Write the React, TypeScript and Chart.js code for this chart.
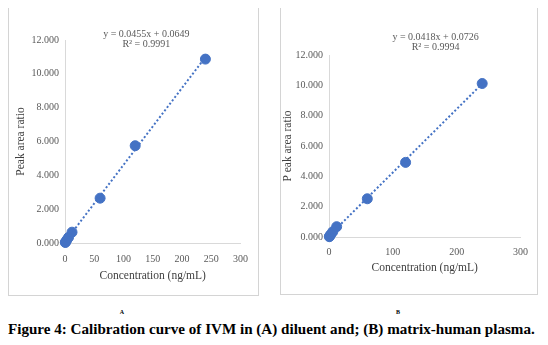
import React, { useEffect, useRef } from "react";
import { Chart, registerables } from "chart.js";

Chart.register(...registerables);

// ---- data ----
const CONCENTRATIONS = [0.5, 1, 3, 6, 12, 60, 120, 240];
const RATIO_A = [0.03, 0.06, 0.17, 0.33, 0.64, 2.65, 5.75, 10.87];
const RATIO_B = [0.02, 0.06, 0.18, 0.35, 0.68, 2.52, 4.92, 10.12];
const SLOPE_A = 0.0455;
const INTERCEPT_A = 0.0649;
const R2_A = "0.9991";
const SLOPE_B = 0.0418;
const INTERCEPT_B = 0.0726;
const R2_B = "0.9994";
const Y_TICKS = [0, 2, 4, 6, 8, 10, 12];
const X_TICKS_A = [0, 50, 100, 150, 200, 250, 300];
const X_TICKS_B = [0, 100, 200, 300];
const Y_TITLE_A = "Peak area ratio";
const Y_TITLE_B = "P eak area ratio";
const X_TITLE = "Concentration (ng/mL)";
const CAPTION = "Figure 4: Calibration curve of IVM in (A) diluent and; (B) matrix-human plasma.";

const BLUE = "#4472C4";
const GREY = "#595959";
const TITLE_GREY = "#404040";
const AXIS = "#d9d9d9";
const FONT = "'Liberation Serif', 'Times New Roman', serif";

type PanelProps = {
  left: number;
  top: number;
  width: number;
  height: number;
  ratios: number[];
  slope: number;
  intercept: number;
  r2: string;
  xTicks: number[];
  yTitle: string;
  layout: { left: number; right: number; top: number; bottom: number };
  yWidth: number;
  xHeight: number;
  yTitlePad: number;
  xTickPad: number;
  eqX: number;
  eqY: number;
  eqGap: number;
};

function Panel(p: PanelProps) {
  const ref = useRef<HTMLCanvasElement | null>(null);
  useEffect(() => {
    if (!ref.current) return;
    const points = CONCENTRATIONS.map((x, i) => ({ x, y: p.ratios[i] }));
    const xs = [CONCENTRATIONS[0], CONCENTRATIONS[CONCENTRATIONS.length - 1]];
    const trend = xs.map((x) => ({ x, y: p.slope * x + p.intercept }));
    const eqPlugin = {
      id: "eq",
      afterDraw(chart: any) {
        const ctx = chart.ctx;
        const xs = chart.scales.x;
        const ys = chart.scales.y;
        const px = xs.getPixelForValue(p.eqX);
        const py = ys.getPixelForValue(p.eqY);
        ctx.save();
        ctx.font = `10px ${FONT}`;
        ctx.fillStyle = GREY;
        ctx.textAlign = "center";
        ctx.textBaseline = "middle";
        ctx.fillText(`y = ${p.slope}x + ${p.intercept}`, px, py);
        ctx.fillText(`R\u00B2 = ${p.r2}`, px, py + p.eqGap);
        ctx.restore();
      },
    };
    const chart = new Chart(ref.current, {
      type: "scatter",
      data: {
        datasets: [
          {
            data: trend,
            showLine: true,
            borderColor: BLUE,
            borderWidth: 2,
            borderDash: [2, 2.2],
            pointRadius: 0,
            fill: false,
            clip: false,
          },
          {
            data: points,
            backgroundColor: BLUE,
            borderColor: BLUE,
            pointRadius: 5,
            showLine: false,
            clip: false,
          },
        ],
      },
      options: {
        animation: false,
        responsive: false,
        maintainAspectRatio: false,
        layout: { padding: p.layout },
        plugins: { legend: { display: false }, tooltip: { enabled: false } },
        scales: {
          x: {
            type: "linear",
            min: p.xTicks[0],
            max: p.xTicks[p.xTicks.length - 1],
            afterBuildTicks: (s: any) => {
              s.ticks = p.xTicks.map((v) => ({ value: v }));
            },
            afterFit: (s: any) => {
              s.height = p.xHeight;
            },
            grid: { display: false, drawTicks: false },
            border: { display: true, color: AXIS, width: 1 },
            ticks: {
              color: GREY,
              font: { family: FONT, size: 10 },
              padding: p.xTickPad,
              maxRotation: 0,
            },
            title: {
              display: true,
              text: X_TITLE,
              color: TITLE_GREY,
              font: { family: FONT, size: 11.5, weight: "normal" },
              padding: { top: 4, bottom: 4 },
            },
          },
          y: {
            type: "linear",
            min: Y_TICKS[0],
            max: Y_TICKS[Y_TICKS.length - 1],
            afterBuildTicks: (s: any) => {
              s.ticks = Y_TICKS.map((v) => ({ value: v }));
            },
            afterFit: (s: any) => {
              s.width = p.yWidth;
            },
            grid: { display: false, drawTicks: false },
            border: { display: true, color: AXIS, width: 1 },
            ticks: {
              color: GREY,
              font: { family: FONT, size: 10 },
              padding: 6,
              callback: (v: any) => Number(v).toFixed(3),
            },
            title: {
              display: true,
              text: p.yTitle,
              color: TITLE_GREY,
              font: { family: FONT, size: 11.5, weight: "normal" },
              padding: { top: p.yTitlePad, bottom: 4 },
            },
          },
        },
      },
      plugins: [eqPlugin],
    });
    return () => chart.destroy();
  }, []);
  return (
    <div
      style={{
        position: "absolute",
        left: p.left,
        top: p.top,
        width: p.width,
        height: p.height,
        border: "1px solid #d4d4d4",
        boxSizing: "border-box",
        background: "#fff",
      }}
    >
      <canvas
        ref={ref}
        width={p.width - 2}
        height={p.height - 2}
        style={{ display: "block", width: p.width - 2, height: p.height - 2 }}
      />
    </div>
  );
}

export default function App() {
  return (
    <div style={{ position: "relative", width: 532, height: 329, background: "#fff" }}>
      <Panel
        left={0}
        top={-5}
        width={251}
        height={293}
        ratios={RATIO_A}
        slope={SLOPE_A}
        intercept={INTERCEPT_A}
        r2={R2_A}
        xTicks={X_TICKS_A}
        yTitle={Y_TITLE_A}
        layout={{ left: 0, right: 14, top: 36, bottom: 8 }}
        yWidth={56}
        xHeight={44}
        yTitlePad={5}
        xTickPad={10}
        eqX={139}
        eqY={12.35}
        eqGap={10}
      />
      <Panel
        left={272}
        top={-5}
        width={258}
        height={292}
        ratios={RATIO_B}
        slope={SLOPE_B}
        intercept={INTERCEPT_B}
        r2={R2_B}
        xTicks={X_TICKS_B}
        yTitle={Y_TITLE_B}
        layout={{ left: 0, right: 14, top: 51, bottom: 15 }}
        yWidth={48}
        xHeight={42}
        yTitlePad={0}
        xTickPad={9}
        eqX={167}
        eqY={13.14}
        eqGap={10}
      />
      <div
        style={{
          position: "absolute",
          left: 106,
          top: 301,
          width: 16,
          lineHeight: "7px",
          textAlign: "center",
          font: `bold 6px ${FONT}`,
          color: "#000",
        }}
      >
        A
      </div>
      <div
        style={{
          position: "absolute",
          left: 382,
          top: 301,
          width: 16,
          lineHeight: "7px",
          textAlign: "center",
          font: `bold 6px ${FONT}`,
          color: "#000",
        }}
      >
        B
      </div>
      <div
        style={{
          position: "absolute",
          left: 0,
          top: 313,
          whiteSpace: "nowrap",
          font: `bold 15.1px ${FONT}`,
          lineHeight: "17px",
          color: "#000",
        }}
      >
        {CAPTION}
      </div>
    </div>
  );
}
